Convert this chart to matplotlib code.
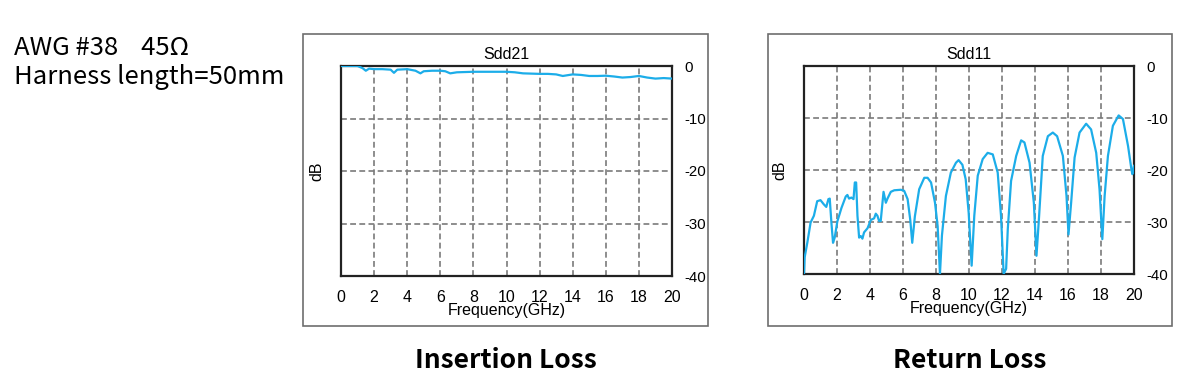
import matplotlib
matplotlib.use("Agg")
import matplotlib.pyplot as plt
from matplotlib.patches import Rectangle

plt.rcParams['axes.unicode_minus'] = False

# ---- data ----
il_freq = [0.0, 0.5, 1.0, 1.3, 1.5, 1.7, 2.0, 2.5, 3.0, 3.2, 3.4, 4.0, 4.5, 4.8, 5.0, 5.5, 6.0, 6.3, 6.6,
           7.0, 8.0, 9.0, 10.0, 10.5, 11.0, 12.0, 12.5, 13.0, 13.4, 14.0, 14.5, 15.0, 15.5, 16.0, 16.5,
           17.0, 17.5, 18.0, 18.5, 19.0, 19.5, 20.0]
il_db = [0.0, 0.0, 0.0, -0.4, -0.9, -0.5, -0.6, -0.6, -0.7, -1.3, -0.7, -0.6, -0.9, -1.4, -1.0, -0.9, -0.9, -1.0, -1.4,
         -1.2, -1.1, -1.1, -1.1, -1.2, -1.4, -1.5, -1.5, -1.6, -1.9, -1.6, -1.7, -1.9, -1.9, -1.85, -2.0,
         -2.2, -2.1, -1.9, -2.2, -2.4, -2.3, -2.4]

rl_freq = [0.0, 0.04, 0.2, 0.4, 0.6, 0.8, 1.0, 1.2, 1.35, 1.48, 1.56, 1.66, 1.76, 1.86, 2.02, 2.27, 2.53, 2.63,
           2.73, 2.87, 3.0, 3.08, 3.16, 3.24, 3.34, 3.44, 3.54, 3.64, 3.85, 4.05, 4.25, 4.35, 4.45, 4.55, 4.65,
           4.82, 4.96, 5.06, 5.26, 5.47, 5.87, 6.07, 6.28, 6.44, 6.56, 6.72, 6.98, 7.29, 7.49, 7.7, 7.94, 8.1,
           8.24, 8.36, 8.6, 8.9, 9.21, 9.37, 9.6, 9.8, 9.98, 10.16, 10.32, 10.53, 10.83, 11.13, 11.44, 11.74,
           11.94, 12.1, 12.25, 12.35, 12.55, 12.86, 13.16, 13.36, 13.67, 13.93, 14.09, 14.25, 14.47, 14.78,
           15.08, 15.34, 15.69, 15.91, 16.03, 16.19, 16.4, 16.7, 17.1, 17.4, 17.71, 17.91, 18.08, 18.22,
           18.42, 18.72, 19.07, 19.33, 19.64, 19.84, 19.9, 20.0]
rl_db = [-40.0, -36.8, -34.0, -30.1, -28.8, -26.0, -25.8, -26.6, -27.1, -25.6, -25.5, -30.1, -34.0, -33.0,
         -29.9, -27.3, -25.1, -24.8, -25.5, -25.3, -25.6, -22.4, -22.4, -28.8, -33.0, -32.7, -33.2, -32.0,
         -31.2, -29.6, -29.3, -28.4, -28.8, -29.8, -29.8, -24.2, -26.3, -25.5, -24.2, -23.9, -23.8, -24.0,
         -25.6, -29.6, -34.0, -28.9, -23.7, -21.5, -21.5, -22.4, -26.3, -30.8, -40.0, -32.6, -25.0, -20.5,
         -18.6, -18.1, -19.0, -21.8, -28.2, -38.4, -28.8, -21.1, -17.9, -16.7, -17.0, -20.5, -28.8, -40.0,
         -39.0, -31.4, -22.1, -17.3, -14.3, -14.7, -18.6, -26.3, -36.5, -28.8, -17.3, -13.5, -12.8, -13.5,
         -17.3, -25.0, -32.4, -26.3, -17.6, -12.8, -11.1, -12.2, -16.7, -23.7, -33.3, -25.0, -17.3, -11.5,
         -9.5, -10.2, -15.4, -19.8, -20.8, -19.2]

x_ticks = [0, 2, 4, 6, 8, 10, 12, 14, 16, 18, 20]
y_ticks = [0, -10, -20, -30, -40]
titles = ["Sdd21", "Sdd11"]
captions = ["Insertion Loss", "Return Loss"]

W, H = 1200, 392
fig = plt.figure(figsize=(W / 100, H / 100), dpi=100)

tick_font = ['Liberation Sans', 'DejaVu Sans']
cjk = ['Noto Sans CJK KR', 'DejaVu Sans']
line_color = '#1CADE9'

def fx(px):
    return px / W

def fy(py):
    return 1 - py / H

panels = [
    dict(box=(303, 34, 708, 326), ax=(341, 66, 672, 276), x=il_freq, y=il_db),
    dict(box=(768, 34, 1172, 326), ax=(804, 66, 1134, 274), x=rl_freq, y=rl_db),
]

for i, p in enumerate(panels):
    bx0, by0, bx1, by1 = p['box']
    fig.patches.append(Rectangle((fx(bx0), fy(by1)), fx(bx1 - bx0), (by1 - by0) / H,
                                 transform=fig.transFigure, fill=False, edgecolor='#6e6e6e',
                                 linewidth=1.2, zorder=0))
    ax0, ay0, ax1, ay1 = p['ax']
    ax = fig.add_axes([fx(ax0), fy(ay1), fx(ax1 - ax0), (ay1 - ay0) / H])
    ax.plot(p['x'], p['y'], color=line_color, linewidth=1.6, zorder=3, clip_on=True)
    ax.set_xlim(0, 20)
    ax.set_ylim(-40, 0)
    ax.set_xticks(x_ticks)
    ax.set_yticks(y_ticks)
    ax.set_xticklabels([str(t) for t in x_ticks], family=tick_font, fontsize=11.5)
    ax.set_yticklabels([str(t) for t in y_ticks], family=tick_font, fontsize=10.8)
    ax.yaxis.tick_right()
    ax.tick_params(axis='both', length=0)
    ax.tick_params(axis='x', pad=10)
    ax.tick_params(axis='y', pad=9)
    ax.grid(True, color='#7a7a7a', linestyle=(0, (3.5, 2)), linewidth=1.2)
    for s in ax.spines.values():
        s.set_linewidth(1.6)
        s.set_color('#222222')
    ax.set_title(titles[i], family=tick_font, fontsize=11.5, pad=5)
    ax.set_xlabel('Frequency(GHz)', family=tick_font, fontsize=11.5, labelpad=-1)
    ax.set_ylabel('dB', family=tick_font, fontsize=11.5, labelpad=12)
    ax.yaxis.set_label_position('left')
    cx = (bx0 + bx1) / 2
    fig.text(fx(cx), fy(360), captions[i], ha='center', va='center',
             family=cjk, fontsize=19, fontweight='bold')

fig.text(fx(14), fy(48), 'AWG #38    45Ω', ha='left', va='center', family=cjk, fontsize=18.5)
fig.text(fx(14), fy(77), 'Harness length=50mm', ha='left', va='center', family=cjk, fontsize=18.5)

fig.savefig('out.png', dpi=100)
